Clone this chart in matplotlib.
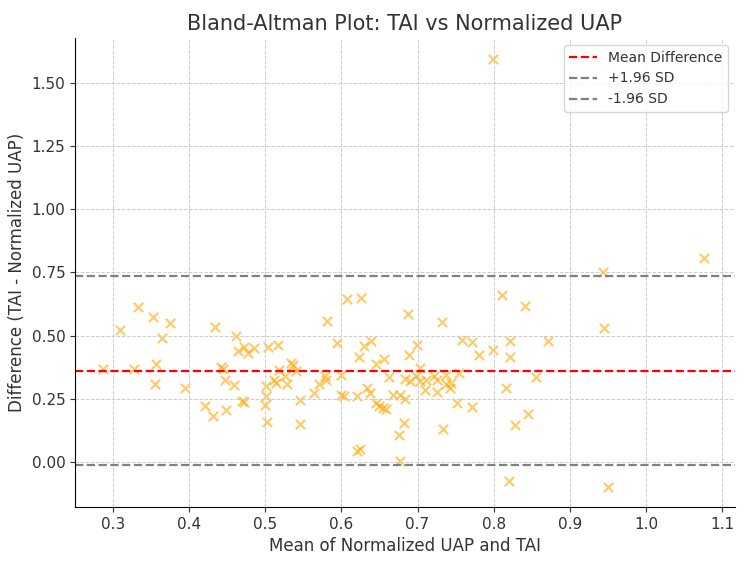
import numpy as np
import matplotlib.pyplot as plt

# mean of the two measures (x) and their difference (y)
mean_vals = [
    0.287, 0.309, 0.328, 0.333, 0.353, 0.356, 0.355, 0.364, 0.375, 0.395,
    0.421, 0.431, 0.434, 0.442, 0.444, 0.447, 0.448, 0.459, 0.461, 0.464,
    0.470, 0.472, 0.472, 0.477, 0.485, 0.500, 0.501, 0.502, 0.501, 0.503,
    0.511, 0.514, 0.517, 0.518, 0.526, 0.529, 0.534, 0.536, 0.540, 0.545,
    0.546, 0.564, 0.571, 0.578, 0.580, 0.581, 0.594, 0.600, 0.600, 0.604,
    0.607, 0.620, 0.621, 0.624, 0.623, 0.626, 0.630, 0.633, 0.637, 0.639,
    0.645, 0.646, 0.650, 0.655, 0.658, 0.656, 0.662, 0.668, 0.677, 0.676,
    0.677, 0.682, 0.683, 0.683, 0.690, 0.687, 0.689, 0.698, 0.699, 0.703,
    0.703, 0.710, 0.711, 0.722, 0.725, 0.725, 0.732, 0.734, 0.738, 0.738,
    0.742, 0.744, 0.752, 0.754, 0.759, 0.771, 0.772, 0.781, 0.799, 0.799,
    0.811, 0.816, 0.820, 0.821, 0.821, 0.828, 0.841, 0.845, 0.855, 0.871,
    0.943, 0.945, 0.950, 1.076,
]
diff_vals = [
    0.368, 0.521, 0.368, 0.614, 0.574, 0.389, 0.307, 0.492, 0.549, 0.290,
    0.219, 0.179, 0.533, 0.376, 0.368, 0.325, 0.205, 0.302, 0.497, 0.437,
    0.239, 0.235, 0.455, 0.429, 0.451, 0.225, 0.262, 0.156, 0.299, 0.454,
    0.325, 0.312, 0.464, 0.365, 0.339, 0.306, 0.393, 0.385, 0.358, 0.246,
    0.150, 0.272, 0.306, 0.339, 0.325, 0.557, 0.471, 0.345, 0.266, 0.259,
    0.646, 0.259, 0.041, 0.050, 0.414, 0.647, 0.460, 0.292, 0.272, 0.480,
    0.233, 0.388, 0.219, 0.213, 0.209, 0.407, 0.335, 0.266, 0.266, 0.104,
    0.001, 0.153, 0.250, 0.328, 0.318, 0.586, 0.421, 0.339, 0.462, 0.372,
    0.319, 0.282, 0.325, 0.339, 0.325, 0.275, 0.553, 0.131, 0.345, 0.306,
    0.290, 0.310, 0.233, 0.352, 0.483, 0.218, 0.475, 0.421, 0.442, 1.598,
    0.659, 0.291, -0.078, 0.477, 0.415, 0.147, 0.619, 0.190, 0.335, 0.477,
    0.753, 0.530, -0.101, 0.808,
]

mean_diff = 0.360
sd_diff = 0.191

plt.rcParams['text.color'] = '#333333'
plt.rcParams['axes.labelcolor'] = '#333333'

fig = plt.figure(figsize=(7.5, 5.63), dpi=100)
ax = fig.add_axes([0.1, 0.0995, 0.88, 0.833])

ax.scatter(mean_vals, diff_vals, marker='x', color='orange', alpha=0.6, s=45, linewidths=1.5)
ax.axhline(mean_diff, color='red', linestyle='--', linewidth=1.6, label='Mean Difference')
ax.axhline(mean_diff + 1.96 * sd_diff, color='gray', linestyle='--', linewidth=1.6, label='+1.96 SD')
ax.axhline(mean_diff - 1.96 * sd_diff, color='gray', linestyle='--', linewidth=1.6, label='-1.96 SD')

ax.set_xlim(0.25, 1.117)
ax.set_ylim(-0.18, 1.68)
ax.set_xticks(np.arange(0.3, 1.15, 0.1))
ax.set_yticks(np.arange(0.0, 1.55, 0.25))
ax.set_xticklabels([f'{t:.1f}' for t in np.arange(0.3, 1.15, 0.1)])
ax.set_yticklabels([f'{t:.2f}' for t in np.arange(0.0, 1.55, 0.25)])
ax.tick_params(labelsize=11, colors='#333333')

ax.spines['top'].set_visible(False)
ax.spines['right'].set_visible(False)
ax.grid(True, linestyle='--', linewidth=0.7, color='#cccccc')

ax.set_title('Bland-Altman Plot: TAI vs Normalized UAP', fontsize=15)
ax.set_xlabel('Mean of Normalized UAP and TAI', fontsize=12)
ax.set_ylabel('Difference (TAI - Normalized UAP)', fontsize=12)
ax.legend(loc='upper right', fontsize=10)

fig.savefig('out.png', dpi=100)
